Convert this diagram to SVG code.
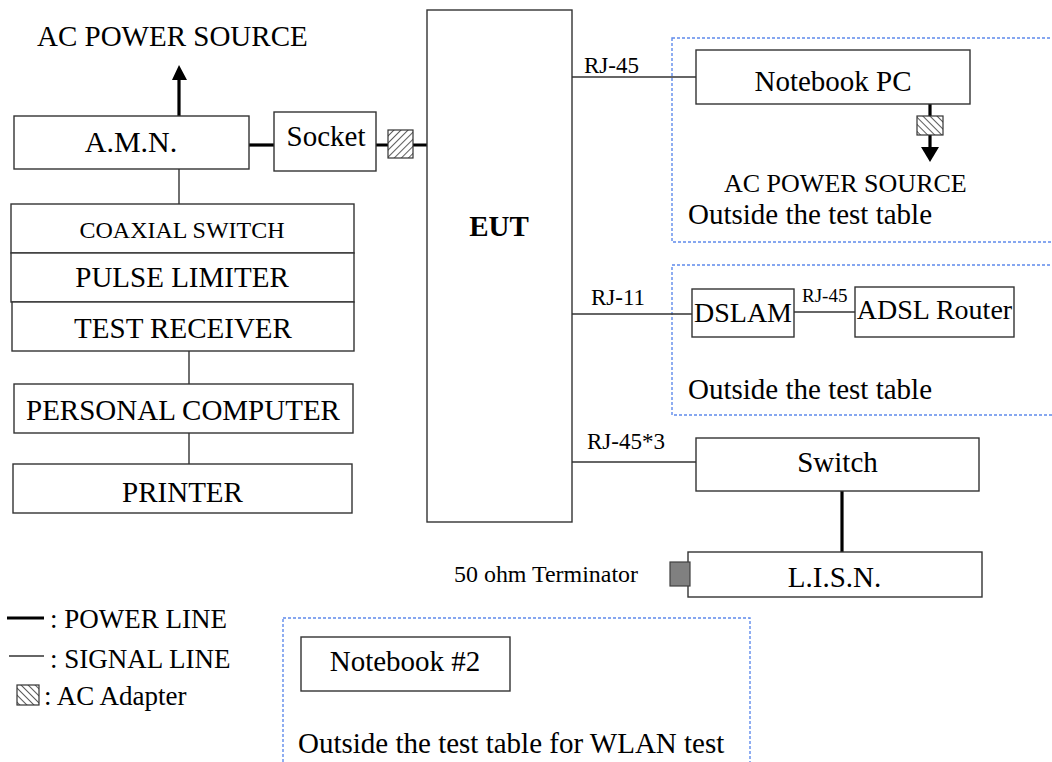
<svg xmlns="http://www.w3.org/2000/svg" width="1052" height="762" viewBox="0 0 1052 762">
<style>
text{font-family:"Liberation Serif","Times New Roman",serif;fill:#000}
.box{fill:#fff;stroke:#333;stroke-width:1.4}
.sig{stroke:#333;stroke-width:1.4;fill:none}
.pwr{stroke:#000;stroke-width:3.2;fill:none}
.dash{fill:none;stroke:#5f8bec;stroke-width:1.4;stroke-dasharray:3 2}
.c{text-anchor:middle}
.f29{font-size:29px}
.f23{font-size:23px}
.ad{stroke:#333;stroke-width:1.2}
</style>
<defs>
<pattern id="hatchF" width="5" height="5" patternUnits="userSpaceOnUse" patternTransform="rotate(45)">
<rect width="5" height="5" fill="#fff"/><line x1="0" y1="0" x2="0" y2="5" stroke="#333" stroke-width="1.6"/>
</pattern>
<pattern id="hatchB" width="5" height="5" patternUnits="userSpaceOnUse" patternTransform="rotate(-45)">
<rect width="5" height="5" fill="#fff"/><line x1="0" y1="0" x2="0" y2="5" stroke="#333" stroke-width="1.6"/>
</pattern>
</defs>
<rect width="1052" height="762" fill="#fff"/>

<g id="zones">
<rect class="dash" x="672" y="38" width="400" height="204"/>
<rect class="dash" x="672" y="265" width="400" height="150"/>
<rect class="dash" x="283" y="618" width="467" height="160"/>
</g>

<g id="connectors">
<line class="pwr" x1="179" y1="116" x2="179" y2="78"/>
<polygon points="179,65 172,80 187,80" fill="#000"/>
<line class="pwr" x1="249" y1="145" x2="274" y2="145"/>
<line class="pwr" x1="376" y1="145" x2="427" y2="145"/>
<line class="sig" x1="179" y1="169" x2="179" y2="204"/>
<line class="sig" x1="189" y1="351" x2="189" y2="384"/>
<line class="sig" x1="189" y1="433" x2="189" y2="464"/>
<line class="sig" x1="572" y1="77" x2="696" y2="77"/>
<line class="pwr" x1="930" y1="104" x2="930" y2="150"/>
<polygon points="930,162 921,147 939,147" fill="#000"/>
<line class="sig" x1="572" y1="314" x2="692" y2="314"/>
<line class="sig" x1="794" y1="312" x2="855" y2="312"/>
<line class="sig" x1="572" y1="462" x2="696" y2="462"/>
<line class="pwr" x1="842" y1="491" x2="842" y2="552"/>
</g>

<g id="adapter-eut"><rect class="ad" x="388" y="130" width="25" height="28" fill="url(#hatchF)"/></g>
<g id="adapter-nb"><rect class="ad" x="917" y="116" width="26" height="19" fill="url(#hatchB)"/></g>

<g id="amn"><rect class="box" x="14" y="116" width="235" height="53"/><text class="c" x="131" y="152" font-size="30">A.M.N.</text></g>
<g id="socket"><rect class="box" x="274" y="112" width="102" height="59"/><text class="c f29" x="326" y="146">Socket</text></g>
<g id="coax"><rect class="box" x="11" y="204" width="343" height="49"/><text class="c" x="182" y="238" font-size="24">COAXIAL SWITCH</text></g>
<g id="pulse"><rect class="box" x="11" y="253" width="343" height="49"/><text class="c f29" x="182" y="287">PULSE LIMITER</text></g>
<g id="receiver"><rect class="box" x="12" y="302" width="342" height="49"/><text class="c f29" x="183" y="338">TEST RECEIVER</text></g>
<g id="pc"><rect class="box" x="14" y="384" width="339" height="49"/><text class="c f29" x="183" y="420">PERSONAL COMPUTER</text></g>
<g id="printer"><rect class="box" x="13" y="464" width="339" height="49"/><text class="c f29" x="182.5" y="502">PRINTER</text></g>
<g id="eut"><rect class="box" x="427" y="10" width="145" height="512"/><text class="c f29" x="499" y="236" font-weight="bold">EUT</text></g>

<g id="ac-left"><text class="f29" x="37" y="46">AC POWER SOURCE</text></g>

<g id="notebook"><rect class="box" x="696" y="50" width="274" height="54"/><text class="c f29" x="833" y="91">Notebook PC</text></g>
<g id="ac-right"><text x="724" y="192" font-size="26">AC POWER SOURCE</text></g>
<text class="f29" x="688" y="224">Outside the test table</text>
<text class="f23" x="584" y="73">RJ-45</text>

<g id="dslam"><rect class="box" x="692" y="289" width="102" height="48"/><text class="c" x="743" y="322" font-size="28">DSLAM</text></g>
<g id="router"><rect class="box" x="855" y="287" width="159" height="50"/><text class="c" x="934.5" y="319" font-size="28">ADSL Router</text></g>
<text class="f23" x="591" y="305">RJ-11</text>
<text x="802" y="302" font-size="19">RJ-45</text>
<text class="f29" x="688" y="399">Outside the test table</text>

<text class="f23" x="587" y="449">RJ-45*3</text>
<g id="switch"><rect class="box" x="696" y="438" width="283" height="53"/><text class="c f29" x="837.5" y="472">Switch</text></g>
<g id="lisn"><rect class="box" x="688" y="552" width="294" height="45"/><text class="c f29" x="834.5" y="587">L.I.S.N.</text></g>
<g id="terminator"><rect x="670" y="562" width="20" height="24" fill="#808080" stroke="#404040" stroke-width="1.2"/><text x="454" y="582" font-size="23.5" textLength="184" lengthAdjust="spacingAndGlyphs">50 ohm Terminator</text></g>

<g id="legend">
<line class="pwr" x1="7" y1="618" x2="44" y2="618"/>
<text x="50" y="628" font-size="27">: POWER LINE</text>
<line class="sig" x1="9" y1="656" x2="44" y2="656"/>
<text x="50" y="668" font-size="27">: SIGNAL LINE</text>
<rect class="ad" x="17" y="685" width="22" height="20" fill="url(#hatchB)"/>
<text x="44" y="705" font-size="27">: AC Adapter</text>
</g>

<g id="notebook2"><rect class="box" x="301" y="637" width="209" height="54"/><text class="c f29" x="405" y="671">Notebook #2</text></g>
<text class="f29" x="298" y="753">Outside the test table for WLAN test</text>
</svg>
